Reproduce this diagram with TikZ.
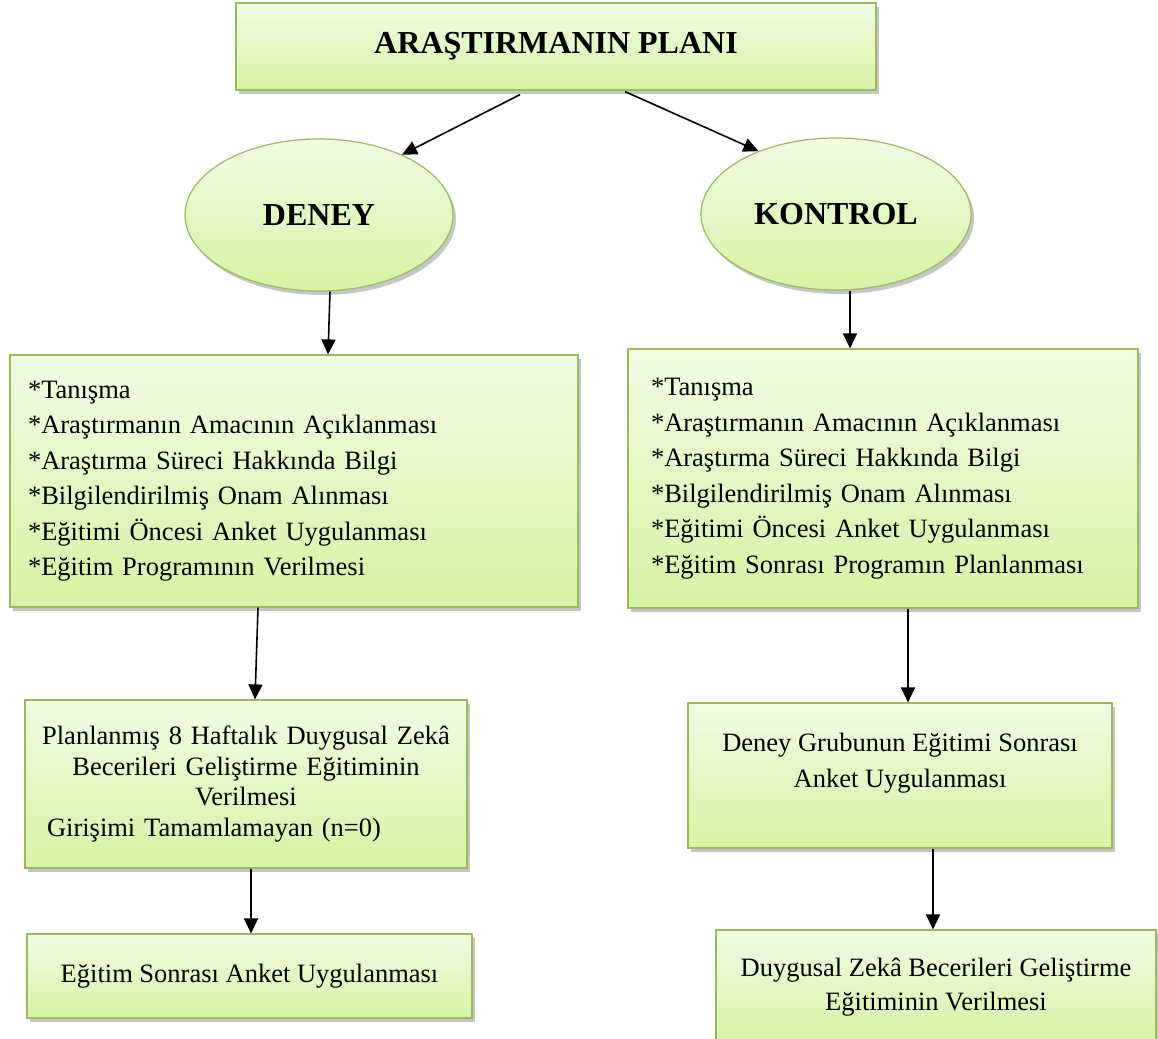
\documentclass[tikz,border=0pt]{standalone}
\usepackage{fontspec}
\setmainfont{Liberation Serif}
\usetikzlibrary{arrows.meta}
\usetikzlibrary{shapes.geometric}
\usetikzlibrary{shadows}
\definecolor{kenar}{HTML}{9BBB59}
\definecolor{acik}{HTML}{F1FCE3}
\definecolor{koyu}{HTML}{D5F4A4}
\tikzset{kutu/.style = {draw = kenar, line width = 1.2pt, top color = acik, bottom color = koyu,
                        drop shadow = {shadow xshift = 3pt, shadow yshift = -4pt, opacity = 0.45},
                        inner sep = 0, font = \fontsize{26.5}{35.5}\selectfont}}
\tikzset{oval/.style = {kutu, ellipse, font = \fontsize{32}{38}\selectfont\bfseries}}
\tikzset{ok/.style = {-{Triangle[length = 15pt, width = 14pt]}, line width = 1.6pt}}

\begin{document}
\begin{tikzpicture}[x = 1pt, y = -1pt]
      \path [use as bounding box, clip] (0, 0) rectangle (1158, 1038);

      \node [kutu, minimum width = 640pt, minimum height = 87pt, font = \fontsize{32}{38}\selectfont\bfseries] (plan) at (556, 46.5) {ARAŞTIRMANIN PLANI};
      \node [oval, minimum width = 268pt, minimum height = 152pt] (deney) at (319, 215) {DENEY};
      \node [oval, minimum width = 270pt, minimum height = 152pt] (kontrol) at (836, 214) {KONTROL};

      \node [kutu, minimum width = 568pt, minimum height = 252pt, text width = 532pt, align = left] (liste1) at (294, 481)
      {{*}Tanışma\\{*}Araştırmanın Amacının Açıklanması\\{*}Araştırma Süreci Hakkında Bilgi\\{*}Bilgilendirilmiş Onam Alınması\\{*}Eğitimi Öncesi Anket Uygulanması\\{*}Eğitim Programının Verilmesi};
      \node [kutu, minimum width = 510pt, minimum height = 259pt, text width = 464pt, align = left] (liste2) at (883, 478.5)
      {{*}Tanışma\\{*}Araştırmanın Amacının Açıklanması\\{*}Araştırma Süreci Hakkında Bilgi\\{*}Bilgilendirilmiş Onam Alınması\\{*}Eğitimi Öncesi Anket Uygulanması\\{*}Eğitim Sonrası Programın Planlanması};

      \node [kutu, minimum width = 442pt, minimum height = 168pt, text width = 420pt, align = center, font = \fontsize{26.5}{30.7}\selectfont] (orta1) at (246, 784)
      {Planlanmış 8 Haftalık Duygusal Zekâ\\Becerileri Geliştirme Eğitiminin\\Verilmesi\\\makebox[\linewidth][l]{\hspace{11pt}Girişimi Tamamlamayan (n=0)}};
      \node [kutu, minimum width = 424pt, minimum height = 145pt, align = center] (orta2) at (900, 775.5)
      {Deney Grubunun Eğitimi Sonrası\\Anket Uygulanması\rule[-30pt]{0pt}{30pt}};

      \node [kutu, minimum width = 445pt, minimum height = 84pt] (son1) at (249.5, 976) {Eğitim Sonrası Anket Uygulanması};
      \node [kutu, minimum width = 440pt, minimum height = 115pt, align = center, font = \fontsize{26.5}{34}\selectfont] (son2) at (936, 987.5)
      {Duygusal Zekâ Becerileri Geliştirme\\Eğitiminin Verilmesi};

      \draw [ok] ([xshift = -36pt, yshift = -4pt]plan.south) -- (deney.36);
      \draw [ok] ([xshift = 69pt, yshift = -1pt]plan.south) -- (kontrol.141);
      \draw [ok] ([xshift = 11pt]deney.south) -- ([xshift = 34pt]liste1.north);
      \draw [ok] ([xshift = 14pt]kontrol.south) -- ([xshift = -33pt]liste2.north);
      \draw [ok] ([xshift = -36pt]liste1.south) -- ([xshift = 9pt]orta1.north);
      \draw [ok] ([xshift = 25pt]liste2.south) -- ([xshift = 8pt]orta2.north);
      \draw [ok] ([xshift = 5pt]orta1.south) -- ([xshift = 1.5pt]son1.north);
      \draw [ok] ([xshift = 33pt]orta2.south) -- ([xshift = -3pt]son2.north);
    \end{tikzpicture}
\end{document}
